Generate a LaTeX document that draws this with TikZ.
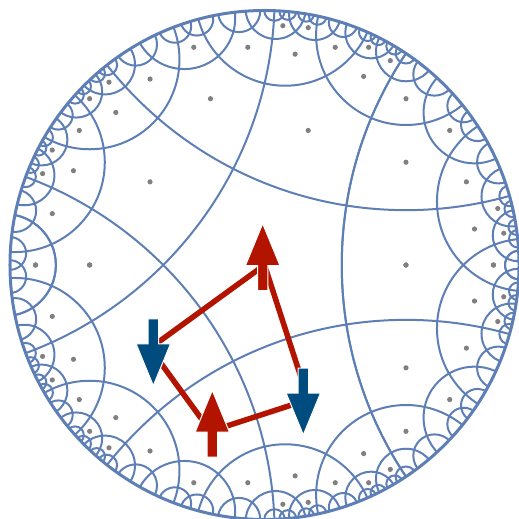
\documentclass[tikz,border=0pt]{standalone}
\usepackage{tikz}
\definecolor{tilec}{HTML}{5E7FB5}
\definecolor{dotc}{HTML}{808080}
\definecolor{upc}{HTML}{B31400}
\definecolor{downc}{HTML}{004C7F}
\tikzset{
  tile/.style={draw=tilec, line width=2pt*0.2845},
  rim/.style={draw=tilec, line width=3pt*0.2845},
  facedot/.style={fill=dotc},
  bond/.style={draw=upc, line width=5.5pt*0.2845},
  pics/spin/.style={code={
    \path[draw=white, line width=1pt*0.2845, fill=#1, line join=miter]
      (0,33.8) -- (17.2,-8) -- (5.2,-8) -- (5.2,-33) -- (-5.2,-33) -- (-5.2,-8) -- (-17.2,-8) -- cycle;
  }},
}
% faces are stored by number: f<i>v<j>x, f<i>v<j>y, f<i>cx, f<i>cy, f<i>d
\newcount\nfaces
\newcount\iface
\newcommand{\getval}[1]{\csname f#1\endcsname}
\newcommand{\setval}[2]{\expandafter\xdef\csname f#1\endcsname{#2}}
\newcommand{\mirx}[2]{\fpeval{(\Cx)+(\Rsq)*((#1)-(\Cx))/(((#1)-(\Cx))^2+((#2)-(\Cy))^2)}}
\newcommand{\miry}[2]{\fpeval{(\Cy)+(\Rsq)*((#2)-(\Cy))/(((#1)-(\Cx))^2+((#2)-(\Cy))^2)}}
\newcommand{\lastring}{3}

\begin{document}
\begin{tikzpicture}[x=0.01cm, y=0.01cm]
    \useasboundingbox (-264.5,-253) rectangle (254.5,265);
    % central pentagon
    \edef\rv{\fpeval{sqrt((cotd(36)-1)/(cotd(36)+1))}}
    \foreach \j in {0,...,4} {
      \setval{0v\j x}{\fpeval{\rv*cosd(36+72*\j)}}
      \setval{0v\j y}{\fpeval{\rv*sind(36+72*\j)}}
    }
    \setval{0cx}{0}
    \setval{0cy}{0}
    \setval{0d}{0}
    \expandafter\xdef\csname seen@0@0\endcsname{1}
    \global\nfaces=1
    \global\iface=0
    \begin{scope}
    \clip (0,0) circle[radius=254.5];
    % walk over the faces, mirroring each one in its edges
    \loop\ifnum\iface<\nfaces
      \edef\cur{\the\iface}
      \fill[facedot] (\fpeval{round(254.5*(\getval{\cur cx}),3)},\fpeval{round(254.5*(\getval{\cur cy}),3)}) circle[radius=2.6];
      \foreach \j in {0,...,4} {
        \pgfmathtruncatemacro\k{mod(\j+1,5)}
        \edef\ax{(\getval{\cur v\j x})}
        \edef\ay{(\getval{\cur v\j y})}
        \edef\bx{(\getval{\cur v\k x})}
        \edef\by{(\getval{\cur v\k y})}
        \edef\dd{\fpeval{\ax*\by-\ay*\bx}}
        \edef\pp{\fpeval{(\ax^2+\ay^2+1)/2}}
        \edef\qq{\fpeval{(\bx^2+\by^2+1)/2}}
        \edef\Cx{\fpeval{(\pp*\by-\qq*\ay)/(\dd)}}
        \edef\Cy{\fpeval{(\ax*\qq-\bx*\pp)/(\dd)}}
        \edef\Rsq{\fpeval{(\Cx)^2+(\Cy)^2-1}}
        % the geodesic of this edge
        \edef\lname{line@\fpeval{round(\Cx,3)}@\fpeval{round(\Cy,3)}}
        \ifcsname\lname\endcsname\else
          \expandafter\xdef\csname\lname\endcsname{1}
          \draw[tile] (\fpeval{round(254.5*(\Cx),3)},\fpeval{round(254.5*(\Cy),3)}) circle[radius=\fpeval{round(254.5*sqrt(\Rsq),3)}];
        \fi
        % the face beyond this edge
        \ifnum\getval{\cur d}<\lastring
          \edef\nx{\mirx{\getval{\cur cx}}{\getval{\cur cy}}}
          \edef\ny{\miry{\getval{\cur cx}}{\getval{\cur cy}}}
          \edef\fname{seen@\fpeval{round(\nx,4)}@\fpeval{round(\ny,4)}}
          \ifcsname\fname\endcsname\else
            \expandafter\xdef\csname\fname\endcsname{1}
            \edef\new{\the\nfaces}
            \setval{\new cx}{\nx}
            \setval{\new cy}{\ny}
            \setval{\new d}{\the\numexpr\getval{\cur d}+1\relax}
            \foreach \m in {0,...,4} {
              \setval{\new v\m x}{\mirx{\getval{\cur v\m x}}{\getval{\cur v\m y}}}
              \setval{\new v\m y}{\miry{\getval{\cur v\m x}}{\getval{\cur v\m y}}}
            }
            \global\advance\nfaces by 1
          \fi
        \fi
      }
      \global\advance\iface by 1
    \repeat
    \end{scope}
    \draw[rim] (0,0) circle[radius=254.5];
    % face centres joined by the loop
    \coordinate (faceA) at (0,0);
    \coordinate (faceB) at (-114.5,-83.2);
    \coordinate (faceC) at (-54,-166.3);
    \coordinate (faceD) at (43.7,-134.6);
    \draw[bond] (faceA) -- (faceB);
    \draw[bond] (faceB) -- (faceC);
    \draw[bond] (faceC) -- (faceD);
    \draw[bond] (faceD) -- (faceA);
    % spins
    \pic at (-1.8,7.5) {spin=upc};
    \pic[rotate=180] at (-111.2,-86.8) {spin=downc};
    \pic at (-52.2,-159.2) {spin=upc};
    \pic[rotate=180] at (38.8,-136) {spin=downc};
\end{tikzpicture}
\end{document}
